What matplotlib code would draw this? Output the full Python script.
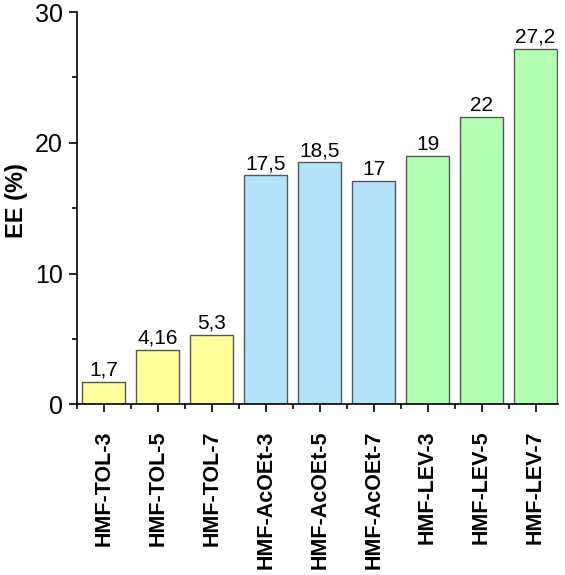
import matplotlib.pyplot as plt
import numpy as np
from matplotlib.ticker import MultipleLocator


SAMPLES = ["HMF-TOL-3", "HMF-TOL-5", "HMF-TOL-7",
           "HMF-AcOEt-3", "HMF-AcOEt-5", "HMF-AcOEt-7",
           "HMF-LEV-3", "HMF-LEV-5", "HMF-LEV-7"]
EE_VALUES = [1.7, 4.16, 5.3, 17.5, 18.5, 17.05, 19, 22, 27.2]
VALUE_LABELS = ["1,7", "4,16", "5,3", "17,5", "18,5", "17", "19", "22", "27,2"]
BAR_COLORS = ["#ffff99"] * 3 + ["#b3e3fa"] * 3 + ["#b3ffb3"] * 3

plt.rcParams["font.family"] = ["Liberation Sans", "DejaVu Sans"]


def main():
    fig = plt.figure(figsize=(5.65, 5.75), dpi=100)
    ax = fig.add_axes([0.136, 0.297, 0.852, 0.682])

    x = np.arange(len(SAMPLES))
    bars = ax.bar(x, EE_VALUES, width=0.8, color=BAR_COLORS,
                  edgecolor="#555555", linewidth=1.0)

    for bar, label in zip(bars, VALUE_LABELS):
        ax.annotate(label, (bar.get_x() + bar.get_width() / 2, bar.get_height()),
                    xytext=(0, 1.5), textcoords="offset points",
                    ha="center", va="bottom", fontsize=15)

    ax.set_xlim(-0.5, 8.42)
    ax.set_ylim(0, 30)
    ax.set_xticks(x)
    ax.set_xticklabels(SAMPLES, rotation=90, fontsize=15.5, fontweight="bold")
    ax.set_xticks(np.arange(-0.5, 8.5, 1), minor=True)
    ax.yaxis.set_major_locator(MultipleLocator(10))
    ax.yaxis.set_minor_locator(MultipleLocator(5))
    ax.tick_params(axis="y", labelsize=18, pad=4)
    ax.tick_params(axis="x", pad=13)
    ax.tick_params(which="major", length=6, width=1.2, direction="out")
    ax.tick_params(which="minor", length=3.5, width=1.2, direction="out")
    ax.set_ylabel("EE (%)", fontsize=17, fontweight="bold", va="center")
    ax.yaxis.set_label_coords(-0.125, 0.52)

    for side in ["top", "right"]:
        ax.spines[side].set_visible(False)
    for side in ["left", "bottom"]:
        ax.spines[side].set_linewidth(1.2)

    fig.savefig("out.png", dpi=100)
    plt.close(fig)


if __name__ == "__main__":
    main()
